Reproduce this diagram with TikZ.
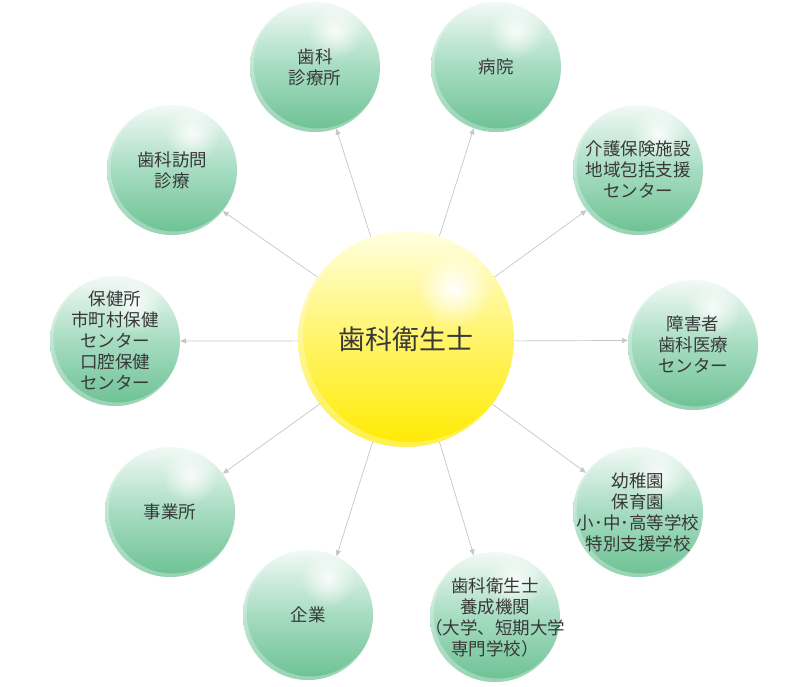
\documentclass[tikz,border=0pt]{standalone}
\usepackage{fontspec}
\setmainfont{Noto Sans CJK JP}
\usepackage{xcolor}
\usetikzlibrary{arrows.meta,fadings}
\definecolor{gdark}{HTML}{6CC193}
\definecolor{gmid}{HTML}{A6DCC1}
\definecolor{gpale}{HTML}{F2F9F6}
\definecolor{ydark}{HTML}{FFEA00}
\definecolor{ymid}{HTML}{FFF46A}
\definecolor{ypale}{HTML}{FFFFE0}
\definecolor{txt}{HTML}{383838}
\definecolor{linkgray}{HTML}{C6C6C6}
\tikzfading[name=glow, inner color=transparent!0, outer color=transparent!100]

\tikzset{
  sphere/.style={circle, inner sep=0pt, shading angle=-45},
  balltext/.style={align=center, text=txt, inner sep=0pt},
  greenball/.style={sphere, minimum size=130pt,
    top color=gpale, bottom color=gdark, middle color=gmid,
    label={[balltext, font=\fontsize{17.5}{21}\selectfont]center:#1},
    path picture={
      \fill[white, opacity=.3, even odd rule] (path picture bounding box.south west) rectangle (path picture bounding box.north east)
        ([shift={(2.5pt,2.5pt)}]path picture bounding box.center) circle (64pt);
      \fill[white, opacity=.85, path fading=glow] ([shift={(20pt,36pt)}]path picture bounding box.center) circle (28pt);
    }},
  yellowball/.style={sphere, minimum size=216pt,
    top color=ypale, bottom color=ydark, middle color=ymid,
    label={[balltext, font=\fontsize{27}{32}\selectfont]center:#1},
    path picture={
      \fill[white, opacity=.3, even odd rule] (path picture bounding box.south west) rectangle (path picture bounding box.north east)
        ([shift={(4pt,4pt)}]path picture bounding box.center) circle (107pt);
      \fill[white, path fading=glow] ([shift={(48pt,50pt)}]path picture bounding box.center) circle (38pt);
    }},
  link/.style={draw=linkgray, line width=0.7pt, -{Triangle[length=6pt,width=5pt]}},
}

\begin{document}
\begin{tikzpicture}[x=1pt,y=-1pt]
  \useasboundingbox (0,0) rectangle (806,686);
  \node[yellowball={歯科衛生士}] (eisei) at (406,339) {};
  \node[greenball={歯科\\診療所}] (shinryo) at (315,67) {};
  \node[greenball={病院}] (byoin) at (496,67) {};
  \node[greenball={介護保険施設\\地域包括支援\\センター}] (kaigo) at (638,170) {};
  \node[greenball={障害者\\歯科医療\\センター}] (shogai) at (693,345) {};
  \node[greenball={幼稚園\\保育園\\小･中･高等学校\\特別支援学校}] (gakko) at (638,512) {};
  \node[greenball={歯科衛生士\\養成機関\\（大学、短期大学\\専門学校）}] (yosei) at (495,617) {};
  \node[greenball={企業}] (kigyo) at (308,615) {};
  \node[greenball={事業所}] (jigyo) at (170,512) {};
  \node[greenball={保健所\\市町村保健\\センター\\口腔保健\\センター}] (hokenjo) at (115,341) {};
  \node[greenball={歯科訪問\\診療}] (homon) at (172,170) {};

  \draw[link] (eisei.109) -- (shinryo.289);
  \draw[link] (eisei.72) -- (byoin.250);
  \draw[link] (eisei.35) -- (kaigo.218);
  \draw[link] (eisei.-1) -- (shogai.176);
  \draw[link] (eisei.-37) -- (gakko.143);
  \draw[link] (eisei.-72) -- (yosei.109);
  \draw[link] (eisei.-108) -- (kigyo.64);
  \draw[link] (eisei.-143) -- (jigyo.36);
  \draw[link] (eisei.181) -- (hokenjo.0);
  \draw[link] (eisei.145) -- (homon.321);
\end{tikzpicture}
\end{document}
